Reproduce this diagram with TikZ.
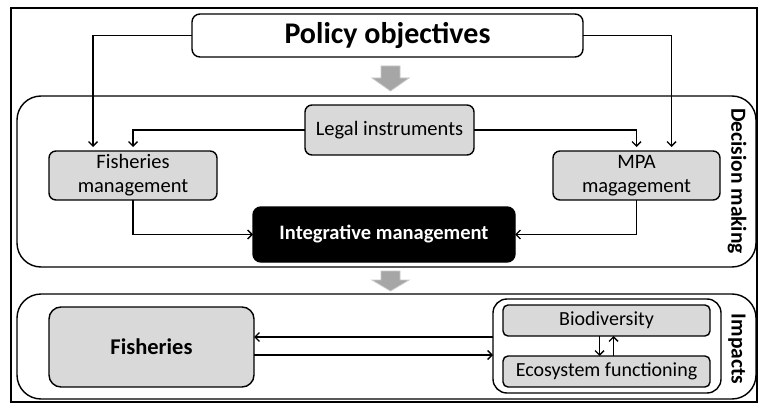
\documentclass[tikz,border=0pt]{standalone}
\usepackage{fontspec}
\setmainfont{Carlito}
\usetikzlibrary{arrows.meta,calc}
\begin{document}
\begin{tikzpicture}[x=1pt,y=-1pt,
  every node/.style={inner sep=0pt,outer sep=0pt},
  line width=1.4pt,
  graybox/.style={draw,rounded corners=7pt,fill=boxgray,align=center,font=\fontsize{20.5}{24}\selectfont},
  whitebox/.style={draw,rounded corners=8pt,fill=white},
  arr/.style={-{Straight Barb[length=4.5pt,width=9pt,line width=1.4pt]},shorten >=4pt},
  arrb/.style={-{Straight Barb[length=4.5pt,width=9pt,line width=1.4pt]}},
  panel/.style={draw,rounded corners=24pt},
  sidelabel/.style={rotate=-90,font=\fontsize{21.5}{24}\selectfont\bfseries},
  blockarr/.style={fill=arrgray,draw=arrline,line width=0.8pt}
]
\definecolor{boxgray}{HTML}{D9D9D9}
\definecolor{arrgray}{HTML}{A6A6A6}
\definecolor{arrline}{HTML}{C8C8C8}
\useasboundingbox (0,0) rectangle (758,404);
\draw[line width=1.6pt] (11,8) rectangle (757,402);

% panels
\draw[panel] (17,96) rectangle (756,267);
\draw[panel] (17,294) rectangle (756,399);
\node[sidelabel] (dm) at (737,181) {Decision making};
\node[sidelabel] (imp) at (737,349) {Impacts};

% top
\node[whitebox,minimum width=391pt,minimum height=43pt,font=\fontsize{30}{32}\selectfont\bfseries] (pol) at (387.5,35.5) {Policy objectives};
\node[graybox,minimum width=169pt,minimum height=50pt] (leg) at (389.5,130) {Legal instruments};
\node[graybox,minimum width=168pt,minimum height=49pt] (fm) at (133,175.5) {Fisheries\\management};
\node[graybox,minimum width=167pt,minimum height=49pt] (mpa) at (636.5,175.5) {MPA\\magagement};
\node[draw,fill=black,text=white,rounded corners=8pt,minimum width=262pt,minimum height=55pt,font=\fontsize{20.5}{24}\selectfont\bfseries] (integ) at (384,234.5) {Integrative management};

% bottom
\node[graybox,rounded corners=12pt,minimum width=205pt,minimum height=80pt,font=\fontsize{22.5}{26}\selectfont\bfseries] (fish) at (151.5,347) {Fisheries};
\node[draw,rounded corners=14pt,minimum width=228pt,minimum height=94pt] (cont) at (607,346) {};
\node[graybox,rounded corners=5pt,minimum width=207pt,minimum height=31pt,font=\fontsize{20}{24}\selectfont] (bio) at (606.5,320.5) {Biodiversity};
\node[graybox,rounded corners=5pt,minimum width=207pt,minimum height=31pt,font=\fontsize{20}{24}\selectfont] (eco) at (606.5,371.5) {Ecosystem functioning};

% connectors
\draw[arr] (pol.west) -| ([xshift=-40pt]fm.north);
\draw[arr] (pol.east) -| ([xshift=35pt]mpa.north);
\draw[arr] (leg.west) -| (fm.north);
\draw[arr] (leg.east) -| (mpa.north);
\draw[arrb] (fm.south) |- (integ.west);
\draw[arrb] (mpa.south) |- (integ.east);
\draw[arrb] ([yshift=9pt]cont.west) -- ([yshift=9pt]cont.west -| fish.east);
\draw[arrb] ([yshift=-8pt]fish.east) -- ([yshift=-8pt]fish.east -| cont.west);
\draw[arrb] ([xshift=-7pt]bio.south) -- ([xshift=-7pt]eco.north);
\draw[arrb] ([xshift=7pt]eco.north) -- ([xshift=7pt]bio.south);

% gray block arrows
\draw[blockarr] (381,66) -- (400,66) -- (400,78) -- (409,78) -- (390.5,91) -- (372,78) -- (381,78) -- cycle;
\draw[blockarr] (381,271) -- (400,271) -- (400,280) -- (409,280) -- (390.5,291) -- (372,280) -- (381,280) -- cycle;
\end{tikzpicture}
\end{document}
